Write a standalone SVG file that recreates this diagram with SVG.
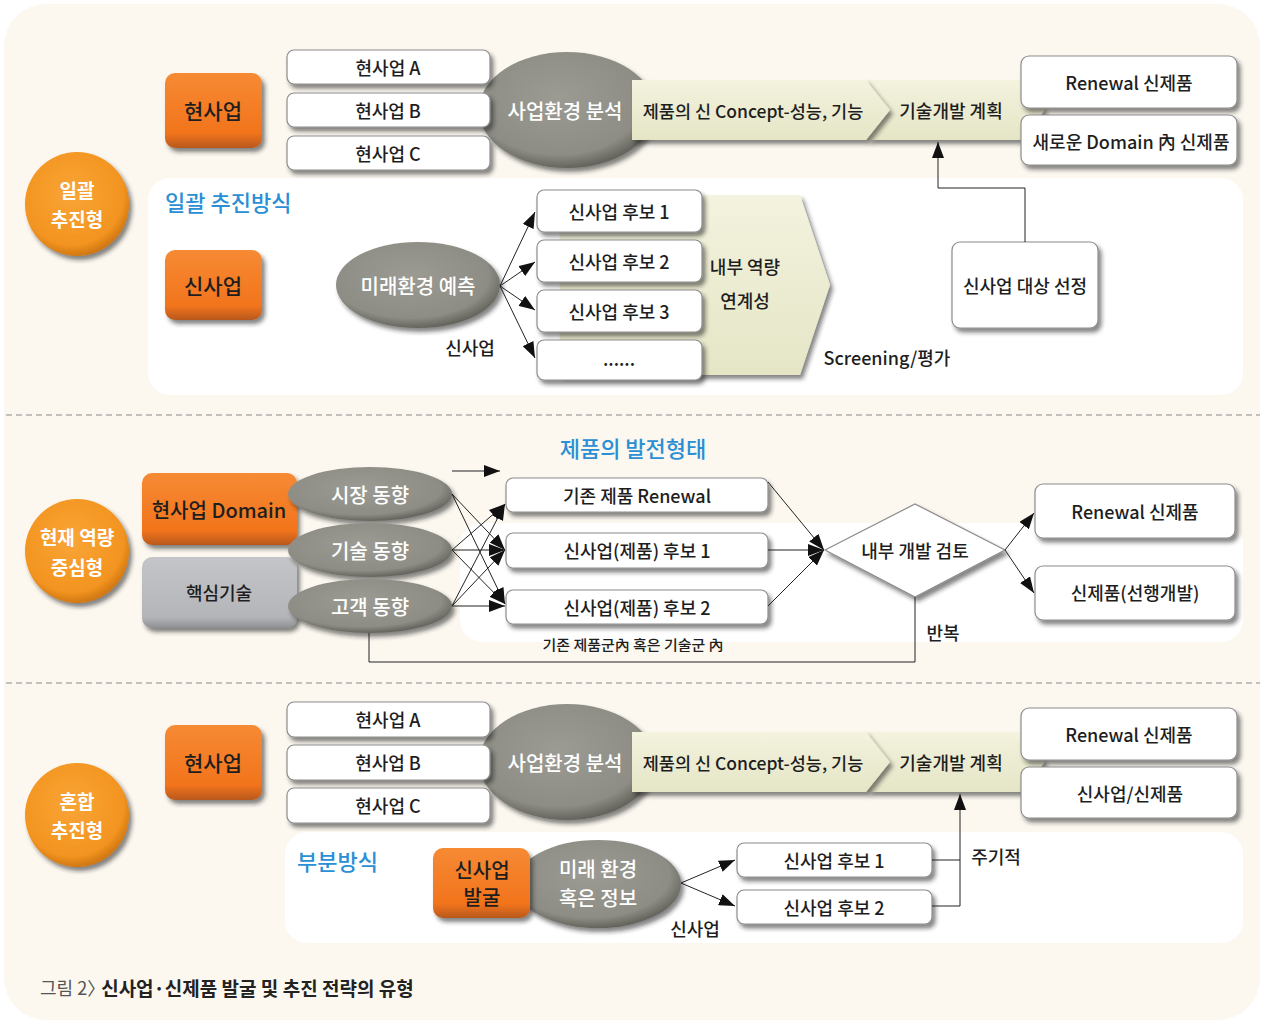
<svg xmlns="http://www.w3.org/2000/svg" width="1264" height="1023" viewBox="0 0 1264 1023">
  <defs>
    <style>
      text { font-family: "Noto Sans CJK KR", "Noto Sans", sans-serif; }
      .t { fill: #1e1e1e; font-size: 18px; text-anchor: middle; dominant-baseline: central; font-weight: 500; }
      .to { fill: #1e1e1e; font-size: 21px; text-anchor: middle; dominant-baseline: central; font-weight: 500; }
      .tw { fill: #fff; font-size: 20px; text-anchor: middle; dominant-baseline: central; font-weight: 500; }
      .tc { fill: #fff; font-size: 19px; text-anchor: middle; dominant-baseline: central; font-weight: 600; }
      .title { fill: #2a8fd4; font-size: 22px; dominant-baseline: central; font-weight: 500; }
      .box { fill: #fff; stroke: #8c8c8c; stroke-width: 1.2; filter: url(#sh); }
      .obox { fill: url(#gOrange); filter: url(#sh); }
      .gbox { fill: url(#gGray); filter: url(#sh); }
      .ell { fill: url(#gEll); filter: url(#sh); }
      .circ { fill: url(#gCircle); filter: url(#sh); }
      .chev { fill: url(#gBeige); filter: url(#sh); }
      .panel { fill: #fff; }
      .ln { fill: none; stroke: #222; stroke-width: 1; }
      .lna { fill: none; stroke: #222; stroke-width: 1; marker-end: url(#arr); }
      .dash { stroke: #8a8a8a; stroke-width: 1.2; stroke-dasharray: 6 4; }
    </style>
    <filter id="sh" x="-20%" y="-20%" width="150%" height="170%">
      <feDropShadow dx="3" dy="4" stdDeviation="2.2" flood-color="#222" flood-opacity="0.55"/>
    </filter>
    <linearGradient id="gOrange" x1="0" y1="0" x2="0" y2="1">
      <stop offset="0" stop-color="#f68a34"/>
      <stop offset="0.8" stop-color="#f2741c"/>
      <stop offset="1" stop-color="#b8581a"/>
    </linearGradient>
    <linearGradient id="gGray" x1="0" y1="0" x2="0" y2="1">
      <stop offset="0" stop-color="#c4c5c8"/>
      <stop offset="0.85" stop-color="#b4b5b9"/>
      <stop offset="1" stop-color="#8e8f93"/>
    </linearGradient>
    <radialGradient id="gCircle" cx="0.45" cy="0.4" r="0.62">
      <stop offset="0" stop-color="#f9a536"/>
      <stop offset="0.8" stop-color="#f39420"/>
      <stop offset="1" stop-color="#c9720f"/>
    </radialGradient>
    <radialGradient id="gEll" cx="0.45" cy="0.4" r="0.62">
      <stop offset="0" stop-color="#9b9b93"/>
      <stop offset="0.78" stop-color="#8d8d85"/>
      <stop offset="1" stop-color="#5e5e57"/>
    </radialGradient>
    <linearGradient id="gBeige" x1="0" y1="0" x2="0" y2="1">
      <stop offset="0" stop-color="#f3f3df"/>
      <stop offset="1" stop-color="#e5e5c6"/>
    </linearGradient>
    <marker id="arr" viewBox="0 0 16 12" refX="16" refY="6" markerWidth="16" markerHeight="12" markerUnits="userSpaceOnUse" orient="auto">
      <path d="M0,0 L16,6 L0,12 z" fill="#111"/>
    </marker>
  </defs>

  <!-- page background -->
  <rect x="4" y="4" width="1256" height="1016" rx="42" fill="#fcf8f0"/>
  <line class="dash" x1="6" y1="415" x2="1260" y2="415"/>
  <line class="dash" x1="6" y1="683" x2="1260" y2="683"/>

  <!-- ===== 일괄 추진형 ===== -->
  <rect class="panel" x="148" y="178" width="1095" height="217" rx="22"/>

  <g id="type-batch">
    <circle class="circ" cx="77" cy="204" r="52"/>
    <text class="tc" x="77" y="189">일괄</text>
    <text class="tc" x="77" y="218">추진형</text>
  </g>

  <g id="cur-biz-1">
    <rect class="obox" x="165" y="73" width="97" height="75" rx="10"/>
    <text class="to" x="213" y="110">현사업</text>
  </g>

  <g id="env-analysis-1">
    <ellipse class="ell" cx="567" cy="110" rx="88" ry="58"/>
  </g>

  <g id="cur-biz-a-1"><rect class="box" x="287" y="50" width="203" height="34" rx="7"/><text class="t" x="388" y="67">현사업 A</text></g>
  <g id="cur-biz-b-1"><rect class="box" x="287" y="93" width="203" height="34" rx="7"/><text class="t" x="388" y="110">현사업 B</text></g>
  <g id="cur-biz-c-1"><rect class="box" x="287" y="136" width="203" height="34" rx="7"/><text class="t" x="388" y="153">현사업 C</text></g>

  <g id="tech-plan-1">
    <polygon class="chev" points="866,80 1020,80 1045,110 1020,140 866,140 890,110"/>
    <text class="t" x="951" y="110">기술개발 계획</text>
  </g>
  <g id="concept-1">
    <polygon class="chev" points="632,80 866,80 890,110 866,140 632,140"/>
    <text class="t" x="753" y="110" style="font-size:17.5px">제품의 신 Concept-성능, 기능</text>
  </g>
  <text class="tw" x="565" y="110">사업환경 분석</text>

  <g id="out-renewal-1"><rect class="box" x="1021" y="56" width="216" height="52" rx="8"/><text class="t" x="1129" y="82">Renewal 신제품</text></g>
  <g id="out-domain-1"><rect class="box" x="1021" y="115" width="216" height="50" rx="8"/><text class="t" x="1131" y="141">새로운 Domain 內 신제품</text></g>

  <text class="title" x="165" y="201">일괄 추진방식</text>

  <g id="new-biz-1">
    <rect class="obox" x="165" y="250" width="97" height="70" rx="10"/>
    <text class="to" x="213" y="285">신사업</text>
  </g>

  <g id="future-env">
    <ellipse class="ell" cx="418" cy="285" rx="82" ry="43"/>
    <text class="tw" x="418" y="285">미래환경 예측</text>
  </g>
  <text class="t" x="470" y="347">신사업</text>

  <g id="screening">
    <polygon class="chev" points="560,195 800,195 830,285 800,375 560,375"/>
    <text class="t" x="745" y="266">내부 역량</text>
    <text class="t" x="745" y="300">연계성</text>
  </g>

  <g id="cand-1"><rect class="box" x="537" y="190" width="165" height="42" rx="7"/><text class="t" x="619" y="211">신사업 후보 1</text></g>
  <g id="cand-2"><rect class="box" x="537" y="240" width="165" height="42" rx="7"/><text class="t" x="619" y="261">신사업 후보 2</text></g>
  <g id="cand-3"><rect class="box" x="537" y="290" width="165" height="42" rx="7"/><text class="t" x="619" y="311">신사업 후보 3</text></g>
  <g id="cand-etc"><rect class="box" x="537" y="340" width="165" height="40" rx="7"/><text class="t" x="619" y="358">......</text></g>

  <text class="t" x="887" y="357">Screening/평가</text>

  <g id="select">
    <rect class="box" x="952" y="242" width="146" height="86" rx="8"/>
    <text class="t" x="1025" y="285">신사업 대상 선정</text>
  </g>

  <!-- ===== 현재 역량 중심형 ===== -->
  <rect class="panel" x="460" y="523" width="783" height="119" rx="22"/>

  <g id="type-capability">
    <circle class="circ" cx="77" cy="551" r="52"/>
    <text class="tc" x="77" y="536">현재 역량</text>
    <text class="tc" x="77" y="566">중심형</text>
  </g>

  <text class="title" x="633" y="447" text-anchor="middle">제품의 발전형태</text>

  <g id="domain">
    <rect class="obox" x="142" y="473" width="155" height="72" rx="10"/>
    <text class="to" x="219" y="509" style="font-size:20px">현사업 Domain</text>
  </g>
  <g id="core-tech">
    <rect class="gbox" x="142" y="557" width="155" height="71" rx="10"/>
    <text class="t" x="219" y="592">핵심기술</text>
  </g>

  <g id="trend-market"><ellipse class="ell" cx="370" cy="494" rx="82" ry="27"/><text class="tw" x="370" y="494">시장 동향</text></g>
  <g id="trend-tech"><ellipse class="ell" cx="370" cy="550" rx="82" ry="27"/><text class="tw" x="370" y="550">기술 동향</text></g>
  <g id="trend-customer"><ellipse class="ell" cx="370" cy="606" rx="82" ry="27"/><text class="tw" x="370" y="606">고객 동향</text></g>

  <g id="renew-existing"><rect class="box" x="506" y="478" width="262" height="34" rx="7"/><text class="t" x="637" y="495">기존 제품 Renewal</text></g>
  <g id="prod-cand-1"><rect class="box" x="506" y="533" width="262" height="35" rx="7"/><text class="t" x="637" y="550">신사업(제품) 후보 1</text></g>
  <g id="prod-cand-2"><rect class="box" x="506" y="590" width="262" height="34" rx="7"/><text class="t" x="637" y="607">신사업(제품) 후보 2</text></g>

  <g id="review">
    <polygon points="825,550 915,504 1005,550 915,597" fill="#fff" stroke="#8c8c8c" stroke-width="1.2" filter="url(#sh)"/>
    <text class="t" x="915" y="550">내부 개발 검토</text>
  </g>

  <g id="out-renewal-2"><rect class="box" x="1035" y="484" width="200" height="54" rx="8"/><text class="t" x="1135" y="511">Renewal 신제품</text></g>
  <g id="out-lead"><rect class="box" x="1035" y="566" width="200" height="54" rx="8"/><text class="t" x="1135" y="592">신제품(선행개발)</text></g>

  <text class="t" x="943" y="632">반복</text>
  <text class="t" x="633" y="644" style="font-size:14px" textLength="181" lengthAdjust="spacingAndGlyphs">기존 제품군內 혹은 기술군 內</text>

  <!-- ===== 혼합 추진형 ===== -->
  <rect class="panel" x="285" y="832" width="958" height="111" rx="22"/>

  <g id="type-mixed">
    <circle class="circ" cx="77" cy="815" r="52"/>
    <text class="tc" x="77" y="800">혼합</text>
    <text class="tc" x="77" y="829">추진형</text>
  </g>

  <g id="cur-biz-3">
    <rect class="obox" x="165" y="725" width="97" height="75" rx="10"/>
    <text class="to" x="213" y="762">현사업</text>
  </g>

  <g id="env-analysis-3">
    <ellipse class="ell" cx="567" cy="762" rx="88" ry="58"/>
  </g>

  <g id="cur-biz-a-3"><rect class="box" x="287" y="702" width="203" height="35" rx="7"/><text class="t" x="388" y="719">현사업 A</text></g>
  <g id="cur-biz-b-3"><rect class="box" x="287" y="745" width="203" height="35" rx="7"/><text class="t" x="388" y="762">현사업 B</text></g>
  <g id="cur-biz-c-3"><rect class="box" x="287" y="788" width="203" height="35" rx="7"/><text class="t" x="388" y="805">현사업 C</text></g>

  <g id="tech-plan-3">
    <polygon class="chev" points="866,732 1020,732 1045,762 1020,792 866,792 890,762"/>
    <text class="t" x="951" y="762">기술개발 계획</text>
  </g>
  <g id="concept-3">
    <polygon class="chev" points="632,732 866,732 890,762 866,792 632,792"/>
    <text class="t" x="753" y="762" style="font-size:17.5px">제품의 신 Concept-성능, 기능</text>
  </g>
  <text class="tw" x="565" y="762">사업환경 분석</text>

  <g id="out-renewal-3"><rect class="box" x="1021" y="708" width="216" height="52" rx="8"/><text class="t" x="1129" y="734">Renewal 신제품</text></g>
  <g id="out-newbiz-3"><rect class="box" x="1021" y="767" width="216" height="51" rx="8"/><text class="t" x="1130" y="793">신사업/신제품</text></g>

  <text class="title" x="297" y="860">부분방식</text>

  <g id="future-info">
    <ellipse class="ell" cx="598" cy="884" rx="83" ry="44"/>
    <text class="tw" x="598" y="868">미래 환경</text>
    <text class="tw" x="598" y="897">혹은 정보</text>
  </g>
  <g id="new-biz-3">
    <rect class="obox" x="433" y="848" width="97" height="70" rx="10"/>
    <text class="to" x="482" y="869" style="font-size:20px">신사업</text>
    <text class="to" x="482" y="896" style="font-size:20px">발굴</text>
  </g>
  <text class="t" x="695" y="928">신사업</text>

  <g id="cand-3-1"><rect class="box" x="737" y="843" width="195" height="34" rx="7"/><text class="t" x="834" y="860">신사업 후보 1</text></g>
  <g id="cand-3-2"><rect class="box" x="737" y="890" width="195" height="34" rx="7"/><text class="t" x="834" y="907">신사업 후보 2</text></g>
  <text class="t" x="996" y="856">주기적</text>

  <!-- connectors -->
  <g id="connectors">
    <line class="lna" x1="500" y1="286" x2="535" y2="212"/>
    <line class="lna" x1="500" y1="286" x2="535" y2="262"/>
    <line class="lna" x1="500" y1="286" x2="535" y2="310"/>
    <line class="lna" x1="500" y1="286" x2="535" y2="358"/>
    <polyline class="lna" points="1025,242 1025,188 938,188 938,142"/>

    <line class="lna" x1="452" y1="471" x2="500" y2="471"/>
    <line class="lna" x1="452" y1="494" x2="505" y2="550"/>
    <line class="lna" x1="452" y1="494" x2="505" y2="604"/>
    <line class="lna" x1="452" y1="550" x2="505" y2="504"/>
    <line class="lna" x1="452" y1="550" x2="505" y2="550"/>
    <line class="lna" x1="452" y1="550" x2="505" y2="604"/>
    <line class="lna" x1="452" y1="606" x2="505" y2="504"/>
    <line class="lna" x1="452" y1="606" x2="505" y2="550"/>
    <line class="lna" x1="452" y1="606" x2="505" y2="606"/>
    <line class="lna" x1="768" y1="482" x2="824" y2="550"/>
    <line class="lna" x1="768" y1="550" x2="824" y2="550"/>
    <line class="lna" x1="768" y1="606" x2="824" y2="550"/>
    <line class="lna" x1="1005" y1="550" x2="1034" y2="513"/>
    <line class="lna" x1="1005" y1="550" x2="1034" y2="593"/>
    <polyline class="ln" points="915,597 915,662 369,662 369,633"/>

    <line class="lna" x1="681" y1="883" x2="735" y2="860"/>
    <line class="lna" x1="681" y1="883" x2="735" y2="906"/>
    <polyline class="ln" points="932,860 960,860"/>
    <polyline class="lna" points="932,906 960,906 960,794"/>
  </g>

  <text x="40" y="987" font-size="18" dominant-baseline="central" fill="#555">그림 2〉<tspan dx="-4" fill="#222" font-weight="bold" font-size="19">신사업·신제품 발굴 및 추진 전략의 유형</tspan></text>
</svg>
